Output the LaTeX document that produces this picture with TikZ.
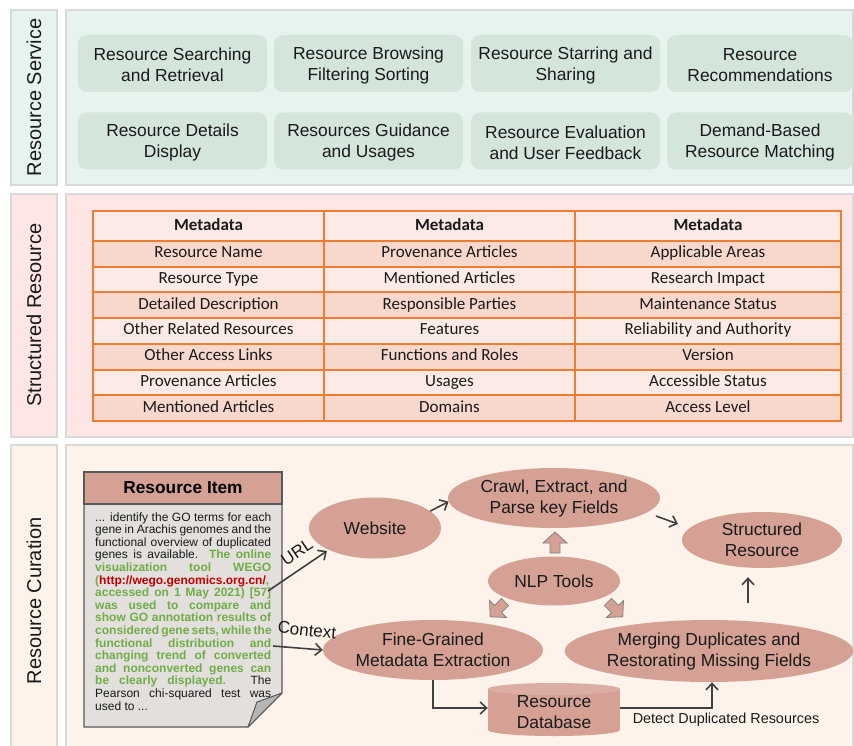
\documentclass[tikz,border=0pt]{standalone}
\usepackage{fontspec}
\setmainfont{Liberation Sans}
\newfontfamily\calfont{Carlito}
\usetikzlibrary{shapes.geometric,arrows.meta,calc}
\definecolor{svcbg}{HTML}{E6F3EF}
\definecolor{svcbox}{HTML}{D4E5DB}
\definecolor{strbg}{HTML}{FDE6E5}
\definecolor{curbg}{HTML}{FDF3EA}
\definecolor{pnlborder}{HTML}{D9D9D9}
\definecolor{tblorange}{HTML}{ED7D31}
\definecolor{rowlight}{HTML}{FBEAE5}
\definecolor{rowdark}{HTML}{F8D8CD}
\definecolor{ellfill}{HTML}{D4A194}
\definecolor{topfill}{HTML}{DCAEA3}
\definecolor{docbg}{HTML}{E3DFDC}
\definecolor{foldgrey}{HTML}{B5B5B5}
\definecolor{docline}{HTML}{595959}
\definecolor{arrgray}{HTML}{404040}
\definecolor{grn}{HTML}{70AD47}
\definecolor{urlred}{HTML}{C00000}
\definecolor{txt}{HTML}{1A1A1A}
\newcommand\jline[1]{\makebox[176pt][s]{#1}}
\newcommand\gb[1]{\textcolor{grn}{\bfseries #1}}
\newcommand\svup{\rule{0pt}{15.8pt}}
\begin{document}
\begin{tikzpicture}[x=1pt,y=-1pt,
  pnl/.style={draw=pnlborder,line width=1.3pt},
  lbl/.style={rotate=90,font=\fontsize{20}{24}\selectfont,text=txt,inner sep=0pt},
  svc/.style={fill=svcbox,rounded corners=9pt,minimum width=189pt,minimum height=57pt,align=center,inner sep=0pt,font=\fontsize{17.4}{21}\selectfont,text=txt},
  tcell/.style={anchor=base,inner sep=0pt,font=\calfont\fontsize{17}{20}\selectfont,text=txt},
  ell/.style={ellipse,fill=ellfill,inner sep=0pt,align=center,font=\fontsize{17.4}{21}\selectfont,text=txt},
  bt/.style={anchor=base west,inner sep=0pt,font=\fontsize{12}{12.6}\selectfont,text=txt},
  arr/.style={draw=arrgray,line width=1.6pt,-{Straight Barb[length=6.5pt,width=12pt]}},
  blkarrow/.style={draw=docline!75,line width=0.8pt,fill=ellfill,line join=miter}
]
\useasboundingbox (0,0) rectangle (854,746);

% ---------- panels
\draw[pnl,fill=svcbg] (11,10) rectangle (57,185);
\draw[pnl,fill=svcbg] (66,10) rectangle (853,185);
\draw[pnl,fill=strbg] (11,194) rectangle (57,437);
\draw[pnl,fill=strbg] (66,194) rectangle (853,437);
\draw[pnl,fill=curbg] (11,445) rectangle (57,752);
\draw[pnl,fill=curbg] (66,445) rectangle (853,752);
\node[lbl] (lsvc) at (34,97.5) {Resource Service};
\node[lbl] (lstr) at (34,315) {Structured Resource};
\node[lbl] (lcur) at (34,601) {Resource Curation};

% ---------- service boxes
\node[svc] (s1) at (172.5,63.5) {\svup Resource Searching\\and Retrieval};
\node[svc] (s2) at (368.5,63.5) {\svup Resource Browsing\\Filtering Sorting};
\node[svc] (s3) at (565.5,63.5) {\svup Resource Starring and\\Sharing};
\node[svc,minimum width=186pt] (s4) at (760,63.5) {\svup Resource\\Recommendations};
\node[svc] (s5) at (172.5,141) {\svup Resource Details\\Display};
\node[svc] (s6) at (368.5,141) {\svup Resources Guidance\\and Usages};
\node[svc] (s7) at (565.5,141) {\svup Resource Evaluation\\and User Feedback};
\node[svc,minimum width=186pt] (s8) at (760,141) {\svup Demand-Based\\Resource Matching};

% ---------- table
\fill[rowlight] (93,211) rectangle (841,421);
\foreach \i in {1,3,5,7}
  \fill[rowdark] (93,{241+25.71*(\i-1)}) rectangle (841,{241+25.71*\i});
\node[tcell,font=\calfont\bfseries\fontsize{17}{20}\selectfont] (ha) at (208.5,230.5) {Metadata};
\node[tcell,font=\calfont\bfseries\fontsize{17}{20}\selectfont] (hb) at (449.5,230.5) {Metadata};
\node[tcell,font=\calfont\bfseries\fontsize{17}{20}\selectfont] (hc) at (708,230.5) {Metadata};
\foreach \i/\a/\b/\c in {1/Resource Name/Provenance Articles/Applicable Areas,
  2/Resource Type/Mentioned Articles/Research Impact,
  3/Detailed Description/Responsible Parties/Maintenance Status,
  4/Other Related Resources/Features/Reliability and Authority,
  5/Other Access Links/Functions and Roles/Version,
  6/Provenance Articles/Usages/Accessible Status,
  7/Mentioned Articles/Domains/Access Level}{
  \node[tcell] (ta\i) at (208.5,{241+25.71*(\i-0.5)+4}) {\a};
  \node[tcell] (tb\i) at (449.5,{241+25.71*(\i-0.5)+4}) {\b};
  \node[tcell] (tc\i) at (708,{241+25.71*(\i-0.5)+4}) {\c};
}
\foreach \i in {0,...,6}
  \draw[tblorange,line width=2pt] (93,{241+25.71*\i}) -- (841,{241+25.71*\i});
\draw[tblorange,line width=2pt] (324,211) -- (324,421) (575,211) -- (575,421);
\draw[tblorange,line width=2pt] (93,211) rectangle (841,421);

% ---------- resource item document
\draw[docline,line width=1.2pt,fill=docbg] (84,472) -- (282,472) -- (282,693) -- (248,727) -- (84,727) -- cycle;
\draw[docline,line width=1.2pt,fill=ellfill] (84,472) rectangle (282,504);
\draw[docline,line width=1pt,fill=foldgrey,line join=round] (282,693) -- (257,702) -- (248,727) -- cycle;
\node[font=\bfseries\fontsize{17.3}{20}\selectfont,text=black] (item) at (183,488) {Resource Item};
\node[bt] (b1) at (95,521) {\jline{... identify the GO terms for each}};
\node[bt] (b2) at (95,533.6) {\jline{gene in Arachis genomes and the}};
\node[bt] (b3) at (95,546.2) {\jline{functional overview of duplicated}};
\node[bt] (b4) at (95,558.8) {\jline{genes is available. \gb{The} \gb{online}}};
\node[bt] (b5) at (95,571.4) {\jline{\gb{visualization} \gb{tool} \gb{WEGO}}};
\node[bt] (b6) at (95,584) {\gb{(}\textcolor{urlred}{\bfseries http://wego.genomics.org.cn/}\gb{,}};
\node[bt] (b7) at (95,596.6) {\jline{\gb{accessed} \gb{on} \gb{1} \gb{May} \gb{2021)} \gb{[57]}}};
\node[bt] (b8) at (95,609.2) {\jline{\gb{was} \gb{used} \gb{to} \gb{compare} \gb{and}}};
\node[bt] (b9) at (95,621.8) {\jline{\gb{show} \gb{GO} \gb{annotation} \gb{results} \gb{of}}};
\node[bt] (b10) at (95,634.4) {\jline{\gb{considered} \gb{gene} \gb{sets,} \gb{while} \gb{the}}};
\node[bt] (b11) at (95,647) {\jline{\gb{functional} \gb{distribution} \gb{and}}};
\node[bt] (b12) at (95,659.6) {\jline{\gb{changing} \gb{trend} \gb{of} \gb{converted}}};
\node[bt] (b13) at (95,672.2) {\jline{\gb{and} \gb{nonconverted} \gb{genes} \gb{can}}};
\node[bt] (b14) at (95,684.8) {\jline{\gb{be} \gb{clearly} \gb{displayed.} The}};
\node[bt] (b15) at (95,697.4) {\jline{Pearson chi-squared test was}};
\node[bt] (b16) at (95,710) {used to ...};
\coordinate (urlpt) at (268,591);
\coordinate (ctxpt) at (273,646);

% ---------- database cylinder
\fill[ellfill] (488,689) rectangle (620,730);
\fill[ellfill] (554,730) ellipse[x radius=66pt,y radius=6pt];
\fill[topfill] (554,689) ellipse[x radius=66pt,y radius=6pt];
\node[inner sep=0pt,minimum width=132pt,minimum height=53pt,align=center,font=\fontsize{17.4}{21}\selectfont,text=txt] (db) at (554,712) {Resource\\Database};

% ---------- ellipses
\node[ell,minimum width=132pt,minimum height=61pt] (web) at (375,528) {Website};
\node[ell,minimum width=212pt,minimum height=60pt] (crawl) at (554,498) {Crawl, Extract, and\\Parse key Fields};
\node[ell,minimum width=160pt,minimum height=56pt] (sr) at (762,540) {Structured\\Resource};
\node[ell,minimum width=132pt,minimum height=49pt] (nlp) at (554,581) {NLP Tools};
\node[ell,minimum width=220pt,minimum height=60pt] (fg) at (433,650) {Fine-Grained\\Metadata Extraction};
\node[ell,minimum width=288pt,minimum height=62pt] (mg) at (709,651) {Merging Duplicates and\\Restorating Missing Fields};

% ---------- NLP block arrows
\draw[blkarrow,shift={(555,543)},rotate=90] (-10,-5) -- (0,-5) -- (0,-12) -- (11,0) -- (0,12) -- (0,5) -- (-10,5) -- cycle;
\draw[blkarrow,shift={(498,609)},rotate=225] (-10,-5) -- (0,-5) -- (0,-12) -- (11,0) -- (0,12) -- (0,5) -- (-10,5) -- cycle;
\draw[blkarrow,shift={(615,609)},rotate=-45] (-10,-5) -- (0,-5) -- (0,-12) -- (11,0) -- (0,12) -- (0,5) -- (-10,5) -- cycle;

% ---------- connectors
\draw[arr] (urlpt) -- ($(web)+(-48,23)$);
\node[rotate=34,font=\fontsize{17}{20}\selectfont,text=txt,inner sep=0pt] (urllbl) at (297,552) {URL};
\draw[arr] (ctxpt) -- (fg.west);
\node[rotate=-6,font=\fontsize{17}{20}\selectfont,text=txt,inner sep=0pt] (ctxlbl) at (307,630) {Context};
\draw[arr] (web.17) -- (crawl.182);
\draw[arr] ($(crawl)+(102,18)$) -- ($(sr)+(-84,-16)$);
\draw[arr] ($(mg.north)+(39,-17)$) -- ($(sr.south)+(-14,9)$);
\draw[arr] (fg.south) |- ($(db.west)+(0,-4)$);
\draw[arr] ($(db.east)+(0,-4)$) -| ($(mg.south)+(3,0)$);
\node[anchor=base,inner sep=0pt,font=\fontsize{14.4}{16}\selectfont,text=txt] (det) at (726,723) {Detect Duplicated Resources};
\end{tikzpicture}
\end{document}
